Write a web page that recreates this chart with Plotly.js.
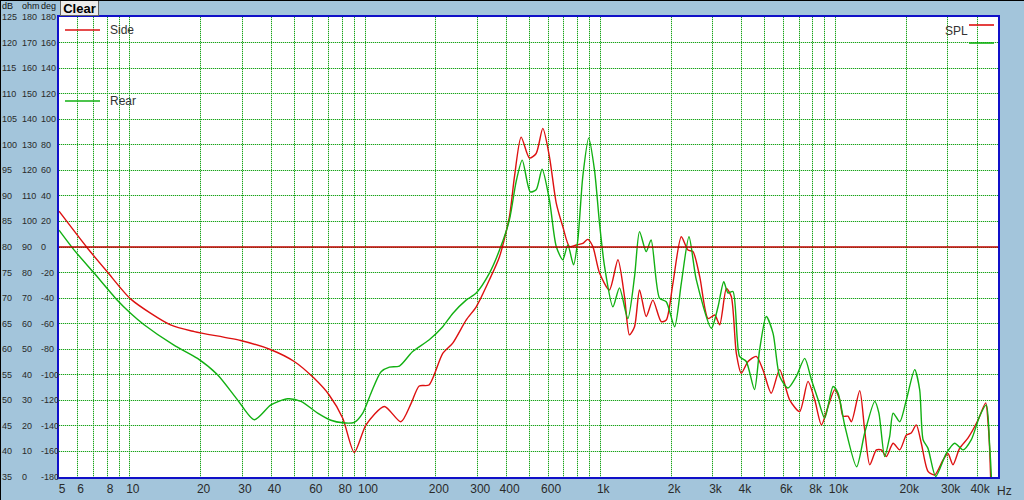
<!DOCTYPE html>
<html>
<head>
<meta charset="utf-8">
<script src="https://cdn.plot.ly/plotly-3.0.1.min.js"></script>
<style>
  html, body { margin: 0; padding: 0; background: #a3c5db; overflow: hidden; }
  #wrap { width: 1023px; height: 499px; border-top: 1px solid #000; border-left: 1px solid #000; }
  #chart { width: 1023px; height: 499px; }
</style>
</head>
<body>
<div id="wrap"><div id="chart"></div></div>
<script>
// ---- data ----
const sideFreq = [5, 6.6, 8.0, 10.1, 14.9, 18.8, 29.6, 39.8, 50, 60.8, 70.5, 80.4, 90, 101, 120.8, 142, 157, 170, 187, 214, 236, 269, 297, 338, 373, 411, 432, 461, 500, 534, 570, 608, 650, 693, 740, 790, 843, 885, 930, 993, 1094, 1189, 1268, 1331, 1399, 1469, 1568, 1674, 1816, 1908, 2037, 2211, 2360, 2478, 2648, 2874, 3068, 3220, 3439, 3607, 3789, 3979, 4250, 4606, 4916, 5332, 5790, 6384, 7042, 7640, 8161, 8718, 9301, 9932, 10420, 10770, 11300, 11690, 12680, 13310, 13990, 14930, 15680, 16450, 17580, 18760, 20020, 20990, 22060, 23170, 24740, 26420, 28640, 30070, 31590, 33710, 36560, 40340, 43500, 44560, 45250, 46000];
const sideDb = [87.0, 79.8, 75.2, 69.8, 64.75, 63.45, 61.7, 59.9, 57.6, 54.3, 51.0, 46.5, 39.8, 45.2, 48.8, 45.8, 49.4, 52.8, 53.0, 59.2, 61.2, 65.7, 68.3, 73.6, 78.1, 85.9, 93.8, 101.5, 97.4, 98.3, 103.2, 97.7, 88.6, 84.0, 80.1, 80.4, 80.7, 81.5, 80.1, 74.9, 71.6, 77.5, 70.3, 62.8, 64.4, 71.6, 66.4, 69.6, 65.4, 65.7, 72.9, 82.0, 79.4, 79.1, 74.2, 66.0, 66.7, 64.8, 71.9, 70.3, 59.2, 55.3, 57.6, 58.6, 56.0, 51.4, 56.0, 50.1, 47.8, 53.7, 50.1, 45.2, 48.8, 52.1, 50.1, 46.9, 46.9, 45.8, 51.9, 44.2, 37.4, 40.3, 40.3, 39.0, 41.6, 40.3, 43.2, 43.6, 45.2, 41.6, 36.1, 35.4, 38.3, 39.6, 37.4, 40.6, 42.6, 46.1, 49.5, 45.5, 40.3, 30.0];

const rearFreq = [5, 5.8, 7.05, 8.85, 10.1, 11.5, 15.4, 19.4, 23.6, 28.7, 33.8, 39.8, 46.9, 53.4, 62.9, 71.6, 80.3, 90, 97.8, 106, 117, 127, 140, 159, 187, 214, 236, 269, 297, 338, 373, 411, 439, 466, 504, 534, 566, 608, 650, 693, 728, 770, 803, 843, 893, 945, 993, 1043, 1132, 1207, 1310, 1399, 1469, 1568, 1645, 1786, 1908, 2071, 2211, 2384, 2560, 2967, 3168, 3350, 3494, 3666, 3912, 4176, 4526, 4760, 5078, 5428, 5790, 6283, 6818, 7400, 7907, 8441, 9000, 9770, 10260, 10960, 12300, 13310, 14690, 15300, 16180, 17000, 17580, 18760, 20020, 21720, 22800, 23580, 24740, 26680, 29590, 32120, 34860, 37820, 41010, 43770, 45250, 46000, 46500];
const rearDb = [83.3, 79.4, 74.9, 69.6, 67.0, 64.8, 60.8, 58.2, 55.0, 50.1, 46.2, 49.1, 50.3, 49.8, 47.5, 46.1, 45.6, 45.7, 47.5, 51.4, 55.6, 56.5, 56.7, 59.5, 61.8, 64.4, 67.0, 69.6, 71.0, 74.9, 79.4, 85.3, 92.8, 97.0, 90.8, 91.2, 95.2, 89.2, 80.1, 77.5, 80.4, 76.5, 81.4, 93.8, 101.3, 95.1, 84.6, 76.2, 68.3, 72.0, 66.0, 74.2, 83.0, 79.1, 81.4, 70.0, 69.3, 64.4, 72.9, 82.0, 73.6, 64.1, 68.3, 73.2, 71.0, 71.3, 58.6, 57.6, 52.1, 59.9, 66.4, 63.1, 54.7, 52.4, 54.7, 58.2, 54.0, 50.1, 46.5, 52.7, 51.4, 45.0, 37.0, 43.6, 49.8, 47.5, 39.0, 42.9, 47.5, 45.8, 50.1, 56.0, 52.1, 42.3, 40.6, 35.1, 39.6, 41.6, 40.3, 42.3, 46.9, 49.1, 41.0, 35.1, 28.0];

const seriesNames = ["Side", "Rear"];
const seriesColors = ["#dd1010", "#12b012"];
const refLevelDb = 80;

const xTickVals = [5,6,7,8,9,10,20,30,40,50,60,70,80,90,100,200,300,400,500,600,700,800,900,1000,2000,3000,4000,5000,6000,7000,8000,9000,10000,20000,30000,40000];
const xTickText = ["5","6","","8","","10","20","30","40","","60","","80","","100","200","300","400","","600","","","","1k","2k","3k","4k","","6k","","8k","","10k","20k","30k","40k"];
const dbTicks  = [125,120,115,110,105,100,95,90,85,80,75,70,65,60,55,50,45,40,35];
const ohmTicks = [180,170,160,150,140,130,120,110,100,90,80,70,60,50,40,30,20,10,0];
const degTicks = [180,160,140,120,100,80,60,40,20,0,-20,-40,-60,-80,-100,-120,-140,-160,-180];

// ---- geometry helpers (paper coordinates from div pixels) ----
const W = 1023, H = 499, ML = 58, MR = 26, MT = 16, MB = 23;
const PW = W - ML - MR, PH = H - MT - MB;
const px = v => (v - ML) / PW;
const py = v => 1 - (v - MT) / PH;
const FONT = '"Liberation Sans", Arial, sans-serif';

const traces = [
  {x: sideFreq, y: sideDb, name: seriesNames[0], type: 'scatter', mode: 'lines',
   line: {color: seriesColors[0], width: 1.4, shape: 'spline', smoothing: 0.7}, hoverinfo: 'skip'},
  {x: rearFreq, y: rearDb, name: seriesNames[1], type: 'scatter', mode: 'lines',
   line: {color: seriesColors[1], width: 1.4, shape: 'spline', smoothing: 0.7}, hoverinfo: 'skip'},
  {x: [], y: [], xaxis: 'x2', yaxis: 'y2', type: 'scatter', mode: 'lines', hoverinfo: 'skip'}
];

const annotations = [];
dbTicks.forEach((d, i) => {
  const common = {xref: 'paper', yref: 'y', y: d, showarrow: false, xanchor: 'left', yanchor: 'middle',
                  borderpad: 0, font: {family: FONT, size: 9, color: '#2a2a2a'}};
  annotations.push(Object.assign({}, common, {x: px(0), text: String(d)}));
  annotations.push(Object.assign({}, common, {x: px(20), text: String(ohmTicks[i])}));
  annotations.push(Object.assign({}, common, {x: px(38.5), text: String(degTicks[i])}));
});
[["dB", 0], ["ohm", 20], ["deg", 39]].forEach(([t, x]) => {
  annotations.push({xref: 'paper', yref: 'paper', x: px(x), y: py(5), text: t, showarrow: false,
    xanchor: 'left', yanchor: 'middle', borderpad: 0, font: {family: FONT, size: 9, color: '#111'}});
});
annotations.push({xref: 'paper', yref: 'paper', x: px(59), y: py(7.5), text: '<b>Clear</b>', showarrow: false,
  xanchor: 'left', yanchor: 'middle', width: 35, height: 12, borderpad: 1, borderwidth: 1,
  bgcolor: '#ececec', bordercolor: '#666', font: {family: FONT, size: 13, color: '#000'}});
annotations.push({xref: 'paper', yref: 'paper', x: px(1004), y: py(490), text: 'Hz', showarrow: false,
  xanchor: 'center', yanchor: 'middle', font: {family: FONT, size: 12, color: '#2a2a2a'}});
// legend texts
annotations.push({xref: 'paper', yref: 'paper', x: px(107), y: py(29), text: seriesNames[0], showarrow: false,
  xanchor: 'left', yanchor: 'middle', font: {family: FONT, size: 12, color: '#333'}});
annotations.push({xref: 'paper', yref: 'paper', x: px(107), y: py(100), text: seriesNames[1], showarrow: false,
  xanchor: 'left', yanchor: 'middle', font: {family: FONT, size: 12, color: '#333'}});
annotations.push({xref: 'paper', yref: 'paper', x: px(942), y: py(30), text: 'SPL', showarrow: false,
  xanchor: 'left', yanchor: 'middle', font: {family: FONT, size: 12, color: '#333'}});

const shapes = [
  {type: 'line', xref: 'paper', yref: 'y', x0: 0, x1: 1, y0: refLevelDb, y1: refLevelDb,
   line: {color: '#c00000', width: 1.4}},
  {type: 'line', xref: 'paper', yref: 'paper', x0: px(64), x1: px(99), y0: py(29), y1: py(29),
   line: {color: seriesColors[0], width: 1.4}},
  {type: 'line', xref: 'paper', yref: 'paper', x0: px(64), x1: px(99), y0: py(100), y1: py(100),
   line: {color: seriesColors[1], width: 1.4}},
  {type: 'line', xref: 'paper', yref: 'paper', x0: px(968), x1: px(993), y0: py(24), y1: py(24),
   line: {color: seriesColors[0], width: 1.6}},
  {type: 'line', xref: 'paper', yref: 'paper', x0: px(968), x1: px(993), y0: py(42), y1: py(42),
   line: {color: seriesColors[1], width: 1.6}}
];

const xRange = [Math.log10(5), 4.691];
const layout = {
  width: W, height: H,
  margin: {l: ML, r: MR, t: MT, b: MB, pad: 0},
  paper_bgcolor: '#a3c5db', plot_bgcolor: '#ffffff',
  showlegend: false,
  font: {family: FONT, size: 12, color: '#2a2a2a'},
  xaxis: {type: 'log', range: xRange, tickmode: 'array', tickvals: xTickVals, ticktext: xTickText,
    showgrid: true, gridcolor: 'rgba(0,140,0,0.85)', gridwidth: 1, griddash: '1px,1px',
    zeroline: false, showline: true, mirror: true, linecolor: '#1010c8', linewidth: 2,
    ticks: '', ticklabelshift: 3, tickfont: {family: FONT, size: 12, color: '#2a2a2a'}},
  yaxis: {range: [35, 125], tickmode: 'array', tickvals: dbTicks, showticklabels: false,
    showgrid: true, gridcolor: 'rgba(0,140,0,0.85)', gridwidth: 1, griddash: '1px,1px',
    zeroline: false, showline: true, mirror: true, linecolor: '#1010c8', linewidth: 2, ticks: ''},
  xaxis2: {type: 'log', range: xRange, overlaying: 'x', tickmode: 'array', tickvals: xTickVals,
    showticklabels: false, showgrid: true, gridcolor: 'rgba(0,170,0,0.25)', gridwidth: 1,
    zeroline: false, showline: false, ticks: ''},
  yaxis2: {range: [35, 125], overlaying: 'y', tickmode: 'array', tickvals: dbTicks,
    showticklabels: false, showgrid: true, gridcolor: 'rgba(0,170,0,0.25)', gridwidth: 1,
    zeroline: false, showline: false, ticks: ''},
  shapes: shapes,
  annotations: annotations
};

Plotly.newPlot('chart', traces, layout, {staticPlot: true, displayModeBar: false});
</script>
</body>
</html>
